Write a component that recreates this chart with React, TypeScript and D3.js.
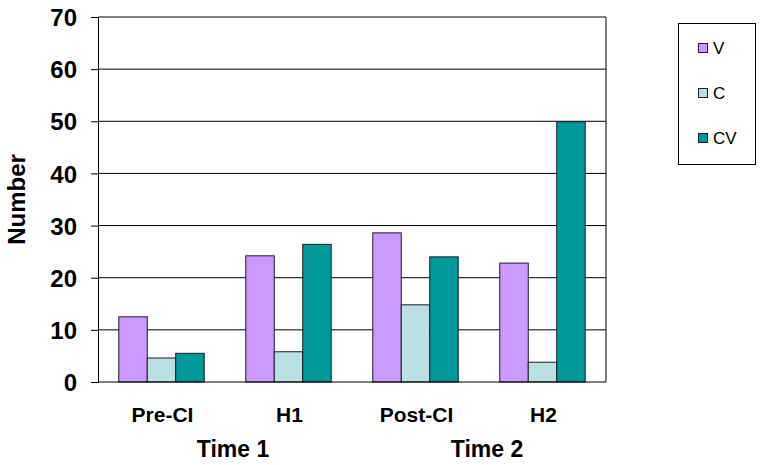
import { useRef, useEffect } from "react";
import * as d3 from "d3";

const categories = ["Pre-CI", "H1", "Post-CI", "H2"];
const seriesNames = ["V", "C", "CV"];
const valuesV = [12.5, 24.2, 28.6, 22.8];
const valuesC = [4.6, 5.8, 14.8, 3.8];
const valuesCV = [5.5, 26.4, 24.0, 49.9];
const yTicks = [0, 10, 20, 30, 40, 50, 60, 70];
const timeLabels = ["Time 1", "Time 2"];
const colors = ["#CC99FF", "#BBE0E3", "#009999"];

export default function App() {
  const ref = useRef<SVGSVGElement | null>(null);

  useEffect(() => {
    if (!ref.current) return;
    const width = 764;
    const height = 465;
    const marginLeft = 98;
    const marginRight = 158;
    const marginTop = 17;
    const marginBottom = 83;
    const font = "'Liberation Sans', Arial, sans-serif";

    const svg = d3.select(ref.current);
    svg.selectAll("*").remove();

    const x = d3
      .scaleBand()
      .domain(categories)
      .range([marginLeft, width - marginRight]);
    const inner = d3
      .scaleBand()
      .domain(seriesNames)
      .range([0, x.bandwidth()])
      .paddingOuter(0.73)
      .paddingInner(0);
    const y = d3
      .scaleLinear()
      .domain([0, 70])
      .range([height - marginBottom, marginTop]);

    // gridlines
    svg
      .append("g")
      .selectAll("line")
      .data(yTicks.filter((t) => t > 0))
      .join("line")
      .attr("x1", marginLeft)
      .attr("x2", width - marginRight)
      .attr("y1", (d) => y(d))
      .attr("y2", (d) => y(d))
      .attr("stroke", "#000")
      .attr("stroke-width", 1);

    // right border
    svg
      .append("line")
      .attr("x1", width - marginRight)
      .attr("x2", width - marginRight)
      .attr("y1", y(70))
      .attr("y2", y(0))
      .attr("stroke", "#000");

    const series = [valuesV, valuesC, valuesCV];
    series.forEach((vals, si) => {
      svg
        .append("g")
        .selectAll("rect")
        .data(vals)
        .join("rect")
        .attr("x", (_, i) => (x(categories[i]) as number) + (inner(seriesNames[si]) as number))
        .attr("y", (d) => y(d))
        .attr("width", inner.bandwidth())
        .attr("height", (d) => y(0) - y(d))
        .attr("fill", colors[si])
        .attr("stroke", "#1a1a2a")
        .attr("stroke-width", 1);
    });

    // y axis
    const yAxis = d3.axisLeft(y).tickValues(yTicks).tickSize(7).tickFormat(d3.format("d"));
    svg
      .append("g")
      .attr("transform", `translate(${marginLeft},0)`)
      .call(yAxis)
      .call((g) => g.select(".domain").attr("stroke", "#000"))
      .call((g) => g.selectAll(".tick line").attr("stroke", "#000"))
      .call((g) =>
        g
          .selectAll(".tick text")
          .attr("x", -21)
          .attr("dy", "0.36em")
          .attr("font-family", font)
          .attr("font-weight", "bold")
          .attr("font-size", 24)
          .attr("fill", "#000")
      );

    // x axis line
    svg
      .append("line")
      .attr("x1", marginLeft)
      .attr("x2", width - marginRight)
      .attr("y1", y(0))
      .attr("y2", y(0))
      .attr("stroke", "#000");

    // category labels
    svg
      .append("g")
      .selectAll("text")
      .data(categories)
      .join("text")
      .attr("x", (d) => (x(d) as number) + x.bandwidth() / 2 + 1)
      .attr("y", 422)
      .attr("text-anchor", "middle")
      .attr("font-family", font)
      .attr("font-weight", "bold")
      .attr("font-size", 21)
      .text((d) => d);

    // time labels
    svg
      .append("g")
      .selectAll("text")
      .data(timeLabels)
      .join("text")
      .attr("x", (_, i) => {
        const a = (x(categories[i * 2]) as number) + x.bandwidth() / 2;
        const b = (x(categories[i * 2 + 1]) as number) + x.bandwidth() / 2;
        return (a + b) / 2 + 8;
      })
      .attr("y", 457)
      .attr("text-anchor", "middle")
      .attr("font-family", font)
      .attr("font-weight", "bold")
      .attr("font-size", 23)
      .text((d) => d);

    // y title
    svg
      .append("text")
      .attr("transform", `translate(25,${(y(0) + y(70)) / 2}) rotate(-90)`)
      .attr("text-anchor", "middle")
      .attr("font-family", font)
      .attr("font-weight", "bold")
      .attr("font-size", 24)
      .text("Number");

    // legend
    const legend = svg.append("g");
    legend
      .append("rect")
      .attr("x", 678.5)
      .attr("y", 23.5)
      .attr("width", 77)
      .attr("height", 141)
      .attr("fill", "#fff")
      .attr("stroke", "#000");
    const ly = d3.scalePoint().domain(seriesNames).range([48, 138]);
    const items = legend
      .selectAll("g.item")
      .data(seriesNames)
      .join("g")
      .attr("class", "item")
      .attr("transform", (d) => `translate(698,${ly(d)})`);
    items
      .append("rect")
      .attr("x", 0.5)
      .attr("y", -4.5)
      .attr("width", 9)
      .attr("height", 9)
      .attr("fill", (_, i) => colors[i])
      .attr("stroke", "#1a1a2a");
    items
      .append("text")
      .attr("x", 15)
      .attr("y", 0)
      .attr("dy", "0.36em")
      .attr("font-family", font)
      .attr("font-size", 17)
      .text((d) => d);
  }, []);

  return (
    <svg
      ref={ref}
      width={764}
      height={465}
      style={{ position: "absolute", left: 0, top: 0, background: "#fff" }}
    />
  );
}
